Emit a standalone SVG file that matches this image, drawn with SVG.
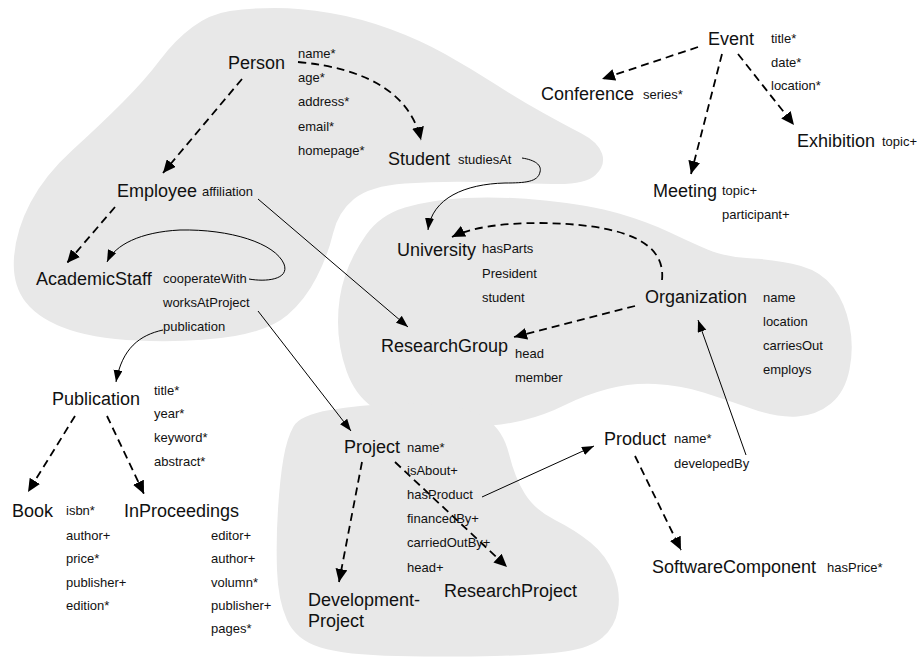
<svg xmlns="http://www.w3.org/2000/svg" width="917" height="657" viewBox="0 0 917 657">
<style>
.blob{fill:#e8e8e8}
text{font-family:"Liberation Sans",Arial,sans-serif;fill:#111}
.c{font-size:18px}
.a{font-size:13px}
.inh{stroke:#000;stroke-width:1.8;stroke-dasharray:8 5;fill:none;marker-end:url(#ah)}
.rel{stroke:#000;stroke-width:1;fill:none;marker-end:url(#ah2)}
</style>
<defs>
<marker id="ah" markerUnits="userSpaceOnUse" markerWidth="14" markerHeight="12" refX="13" refY="6" orient="auto"><path d="M0,0 L13,6 L0,12 z" fill="#000"/></marker>
<marker id="ah2" markerUnits="userSpaceOnUse" markerWidth="13" markerHeight="10" refX="12" refY="4.5" orient="auto"><path d="M0,0 L12,4.5 L0,9 z" fill="#000"/></marker>
</defs>
<g id="blobs">
<path class="blob" d="M275,8 Q300,8 330,13 Q360,18 390,29 Q420,40 445,54 Q470,68 495,84 Q520,100 542.5,112.5 Q565,125 581.5,133.5 Q598,142 602,153.5 Q606,165 595.5,175 Q585,185 552.5,184 Q520,183 480,182 Q440,181 405,183.5 Q370,186 354,199 Q338,212 333,233.5 Q328,255 316.5,277.5 Q305,300 287.5,315 Q270,330 235,336 Q200,342 150,341 Q100,340 70,330 Q40,320 26,302.5 Q12,285 14,257.5 Q16,230 30.5,202.5 Q45,175 72.5,150 Q100,125 122.5,102.5 Q145,80 160,60 Q175,40 192.5,27 Q210,14 230,11 Q250,8 275,8 Z"/>
<path class="blob" d="M366,235 Q380,215 405,207.5 Q430,200 465,198 Q500,196 545,200.5 Q590,205 619,213.5 Q648,222 669,232 Q690,242 707.5,249.5 Q725,257 752.5,258.5 Q780,260 801,266 Q822,272 833.5,287.5 Q845,303 849.5,325 Q854,347 849.5,369.5 Q845,392 831,403.5 Q817,415 797.5,416.5 Q778,418 752.5,409 Q727,400 703.5,392.5 Q680,385 655,384 Q630,383 607.5,389 Q585,395 565,405 Q545,415 522.5,420.5 Q500,426 470,427 Q440,428 415,423.5 Q390,419 372.5,407 Q355,395 346.5,371 Q338,347 338,322 Q338,297 345,276 Q352,255 366,235 Z"/>
<path class="blob" d="M330,410 Q360,405 390,404 Q420,403 445,405.5 Q470,408 486.5,419 Q503,430 509,454 Q515,478 525,494 Q535,510 555,520 Q575,530 590.5,542.5 Q606,555 613.5,573.5 Q621,592 618,609.5 Q615,627 602.5,637.5 Q590,648 565,651.5 Q540,655 495,656 Q450,657 397.5,656 Q345,655 320.5,647.5 Q296,640 287,620 Q278,600 277,570 Q276,540 278,509 Q280,478 283.5,458 Q287,438 293.5,426.5 Q300,415 330,410 Z"/>
</g>
<g id="connectors">
<path class="inh" d="M242,79 L163,173"/>
<path class="inh" d="M298,62 Q405,72 421,140"/>
<path class="inh" d="M115,207 L67,263"/>
<path class="inh" d="M662,280 C666,240 620,224 540,223 C500,223 470,228 452,237"/>
<path class="inh" d="M635,306 L514,337"/>
<path class="inh" d="M698,47 L602,79"/>
<path class="inh" d="M722,54 L691,174"/>
<path class="inh" d="M738,54 L794,125"/>
<path class="inh" d="M75,416 L28,492"/>
<path class="inh" d="M107,416 L144,494"/>
<path class="inh" d="M362,462 L339,582"/>
<path class="inh" d="M395,462 L507,567"/>
<path class="inh" d="M635,456 L681,550"/>
<path class="rel" d="M258,199 L408,327"/>
<path class="rel" d="M258,311 L351,431"/>
<path class="rel" d="M249,279 C265,282 290,280 284,264 C275,243 230,229 180,230 C140,232 115,245 107,262"/>
<path class="rel" d="M522,158 C535,160 542,165 540,172 C538,182 525,183 505,183 C465,184 432,198 428,230"/>
<path class="rel" d="M163,330 C140,335 122,348 116,382"/>
<path class="rel" d="M482,497 L594,446"/>
<path class="rel" d="M746,455 L698,320"/>
</g>
<g id="Person"><text class="c" x="228" y="69">Person</text>
<text class="a" x="298" y="58">name*</text><text class="a" x="298" y="82">age*</text><text class="a" x="298" y="106">address*</text><text class="a" x="298" y="131">email*</text><text class="a" x="298" y="155">homepage*</text></g>
<g id="Student"><text class="c" x="388" y="165">Student</text><text class="a" x="458" y="164">studiesAt</text></g>
<g id="Employee"><text class="c" x="117" y="197">Employee</text><text class="a" x="202" y="196">affiliation</text></g>
<g id="AcademicStaff"><text class="c" x="36" y="285">AcademicStaff</text>
<text class="a" x="163" y="283">cooperateWith</text><text class="a" x="163" y="307">worksAtProject</text><text class="a" x="163" y="331">publication</text></g>
<g id="University"><text class="c" x="397" y="256">University</text>
<text class="a" x="482" y="253">hasParts</text><text class="a" x="482" y="278">President</text><text class="a" x="482" y="302">student</text></g>
<g id="Organization"><text class="c" x="645" y="303">Organization</text>
<text class="a" x="763" y="302">name</text><text class="a" x="763" y="326">location</text><text class="a" x="763" y="350">carriesOut</text><text class="a" x="763" y="374">employs</text></g>
<g id="ResearchGroup"><text class="c" x="381" y="352">ResearchGroup</text>
<text class="a" x="515" y="358">head</text><text class="a" x="515" y="382">member</text></g>
<g id="Event"><text class="c" x="708" y="45">Event</text>
<text class="a" x="771" y="43">title*</text><text class="a" x="771" y="67">date*</text><text class="a" x="771" y="90">location*</text></g>
<g id="Conference"><text class="c" x="541" y="100">Conference</text><text class="a" x="643" y="99">series*</text></g>
<g id="Exhibition"><text class="c" x="797" y="147">Exhibition</text><text class="a" x="882" y="146">topic+</text></g>
<g id="Meeting"><text class="c" x="653" y="197">Meeting</text><text class="a" x="722" y="195">topic+</text><text class="a" x="722" y="219">participant+</text></g>
<g id="Publication"><text class="c" x="52" y="405">Publication</text>
<text class="a" x="154" y="395">title*</text><text class="a" x="154" y="418">year*</text><text class="a" x="154" y="442">keyword*</text><text class="a" x="154" y="466">abstract*</text></g>
<g id="Book"><text class="c" x="12" y="517">Book</text>
<text class="a" x="66" y="515">isbn*</text><text class="a" x="66" y="540">author+</text><text class="a" x="66" y="563">price*</text><text class="a" x="66" y="587">publisher+</text><text class="a" x="66" y="610">edition*</text></g>
<g id="InProceedings"><text class="c" x="124" y="517">InProceedings</text>
<text class="a" x="211" y="540">editor+</text><text class="a" x="211" y="563">author+</text><text class="a" x="211" y="587">volumn*</text><text class="a" x="211" y="610">publisher+</text><text class="a" x="211" y="633">pages*</text></g>
<g id="Project"><text class="c" x="344" y="453">Project</text>
<text class="a" x="407" y="452">name*</text><text class="a" x="407" y="475">isAbout+</text><text class="a" x="407" y="499">hasProduct</text><text class="a" x="407" y="523">financedBy+</text><text class="a" x="407" y="547">carriedOutBy+</text><text class="a" x="407" y="572">head+</text></g>
<g id="DevelopmentProject"><text class="c" x="308" y="606">Development-</text><text class="c" x="308" y="627">Project</text></g>
<g id="ResearchProject"><text class="c" x="444" y="597">ResearchProject</text></g>
<g id="Product"><text class="c" x="604" y="445">Product</text><text class="a" x="674" y="443">name*</text><text class="a" x="674" y="468">developedBy</text></g>
<g id="SoftwareComponent"><text class="c" x="652" y="573">SoftwareComponent</text><text class="a" x="827" y="572">hasPrice*</text></g>
</svg>
